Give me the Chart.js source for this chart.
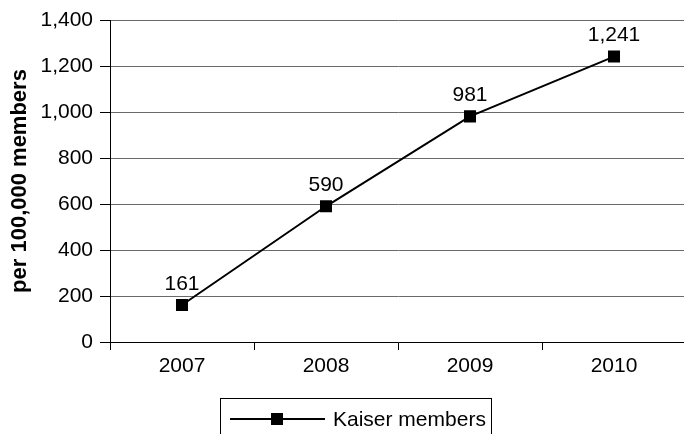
<!DOCTYPE html>
<html>
<head>
<meta charset="utf-8">
<script src="https://cdn.jsdelivr.net/npm/chart.js@4/dist/chart.umd.min.js"></script>
<style>
  html, body { margin: 0; padding: 0; background: #fff; overflow: hidden; }
  #wrap { width: 684px; height: 434px; overflow: hidden; }
  #c { display: block; }
</style>
</head>
<body>
<div id="wrap"><canvas id="c" width="700" height="434"></canvas></div>
<script>
const years = ['2007', '2008', '2009', '2010'];
const kaiserMembers = [161, 590, 981, 1241];
const seriesLabel = 'Kaiser members';
const yTicks = [0, 200, 400, 600, 800, 1000, 1200, 1400];
const yTitle = 'per 100,000 members';

const FONT = "'Liberation Sans', Arial, Helvetica, sans-serif";
const FONT_SIZE = 21;

// Value labels drawn above each point
const valueLabels = {
  id: 'valueLabels',
  afterDatasetsDraw(chart) {
    const ctx = chart.ctx;
    const meta = chart.getDatasetMeta(0);
    const data = chart.data.datasets[0].data;
    ctx.save();
    ctx.font = FONT_SIZE + 'px ' + FONT;
    ctx.fillStyle = '#000';
    ctx.textAlign = 'center';
    ctx.textBaseline = 'middle';
    meta.data.forEach((pt, i) => {
      ctx.fillText(data[i].toLocaleString('en-US'), pt.x, pt.y - 21);
    });
    ctx.restore();
  }
};

// Boxed legend under the axis
const boxedLegend = {
  id: 'boxedLegend',
  afterDraw(chart) {
    const ctx = chart.ctx;
    const ds = chart.data.datasets[0];
    const left = 220, top = 398, right = 491, cy = 419;
    ctx.save();
    ctx.strokeStyle = '#000';
    ctx.lineWidth = 1;
    ctx.strokeRect(left + 0.5, top + 0.5, right - left, 60);
    ctx.beginPath();
    ctx.lineWidth = 2;
    ctx.moveTo(230, cy);
    ctx.lineTo(325, cy);
    ctx.stroke();
    ctx.fillStyle = '#000';
    ctx.fillRect(271, cy - 6, 12, 12);
    ctx.font = FONT_SIZE + 'px ' + FONT;
    ctx.textAlign = 'left';
    ctx.textBaseline = 'middle';
    ctx.fillText(ds.label, 333, cy + 1);
    ctx.restore();
  }
};

new Chart(document.getElementById('c'), {
  type: 'line',
  data: {
    labels: years,
    datasets: [{
      label: seriesLabel,
      data: kaiserMembers,
      borderColor: '#000',
      backgroundColor: '#000',
      borderWidth: 2,
      pointStyle: 'rect',
      pointRadius: 8.5,
      pointHoverRadius: 8.5,
      pointBorderWidth: 0,
      tension: 0
    }]
  },
  options: {
    responsive: false,
    animation: false,
    devicePixelRatio: 1,
    layout: { padding: { top: 20, right: 14, bottom: 0, left: 0 } },
    plugins: {
      legend: { display: false },
      tooltip: { enabled: false }
    },
    scales: {
      x: {
        type: 'category',
        offset: true,
        grid: {
          display: true,
          offset: true,
          drawOnChartArea: false,
          drawTicks: true,
          tickLength: 8,
          color: '#000'
        },
        border: { display: true, color: '#000', width: 1 },
        ticks: { color: '#000', font: { family: FONT, size: FONT_SIZE }, padding: 4, maxRotation: 0 },
        afterFit(scale) { scale.height = 92; }
      },
      y: {
        min: 0,
        max: 1400,
        afterBuildTicks(scale) { scale.ticks = yTicks.map(v => ({ value: v })); },
        grid: {
          color: '#6a6a6a',
          lineWidth: 1,
          drawTicks: true,
          tickLength: 10,
          tickColor: '#000'
        },
        border: { display: true, color: '#000', width: 1 },
        ticks: {
          color: '#000',
          font: { family: FONT, size: FONT_SIZE },
          padding: 7,
          callback: v => v.toLocaleString('en-US')
        },
        title: {
          display: true,
          text: yTitle,
          color: '#000',
          font: { family: FONT, size: 22, weight: 'bold' },
          padding: { top: 7, bottom: 0 }
        },
        afterFit(scale) { scale.width = 110; }
      }
    }
  },
  plugins: [valueLabels, boxedLegend]
});
</script>
</body>
</html>
